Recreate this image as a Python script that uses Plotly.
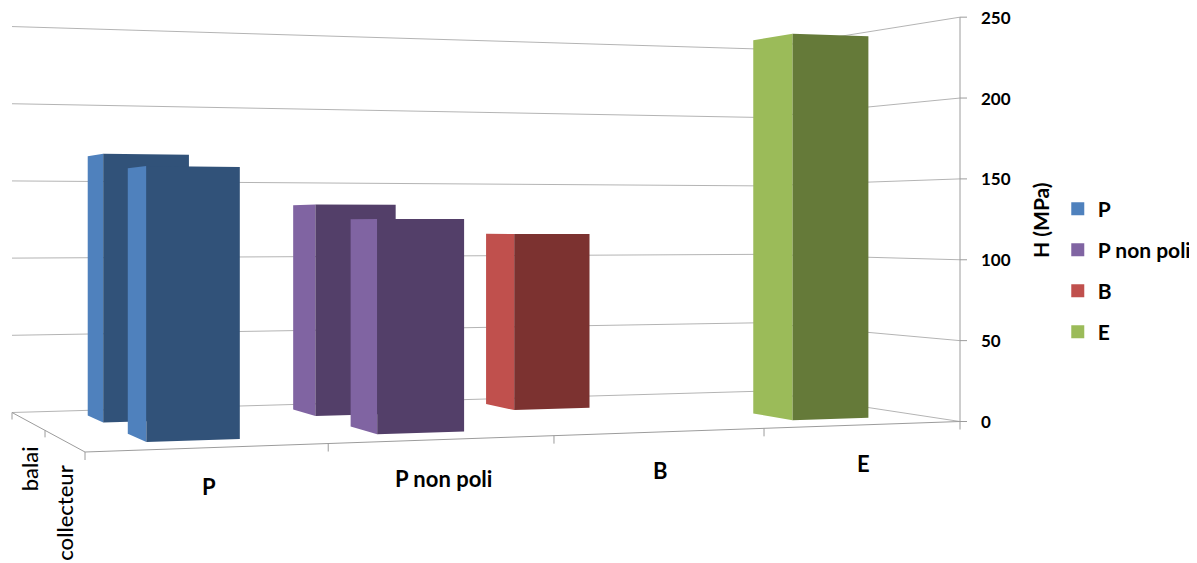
import plotly.graph_objects as go

categories = ["P", "P non poli", "B", "E"]
rows = ["balai", "collecteur"]
balai_values = [165.3, 134.5, 115.5, None]
collecteur_values = [154.5, 125.0, None, 240.5]
z_ticks = [0, 50, 100, 150, 200, 250]
z_max = 250
side_colors = ["#4f81bd", "#8064a2", "#c0504d", "#9bbb59"]
front_colors = ["#315279", "#533f69", "#7c3230", "#657a39"]

# Projection of the (category, depth, value) box onto the page: Excel-style 3D view
ORIGIN = (85.0, 452.0)
RIGHT_FRONT = (960.0, 421.5)
LEFT_BACK = (12.0, 412.5)
G, H = 0.155, 0.21
Z_PIX = 467.0
AX = RIGHT_FRONT[0] * (1 + G) - ORIGIN[0]
BX = LEFT_BACK[0] * (1 + H) - ORIGIN[0]
AY = RIGHT_FRONT[1] * (1 + G) - ORIGIN[1]
BY = LEFT_BACK[1] * (1 + H) - ORIGIN[1]
PAGE_MARGIN = 8  # the page body's default margin


def project(u, v, z):
    den = 1 + G * u + H * v
    x = (ORIGIN[0] + AX * u + BX * v) / den
    y = (ORIGIN[1] + AY * u + BY * v - Z_PIX * z / z_max) / den
    return x, y


GRID = "#b4b4b4"
AXIS = "#9c9c9c"
ROW_V = {"balai": 0.75, "collecteur": 0.26}
LABEL_V = {"balai": 0.76, "collecteur": 0.27}
HALF_D = 0.10
HALF_W = 0.0495
N = len(categories)

fig = go.Figure()


def line(points, color=GRID, width=1):
    fig.add_trace(go.Scatter(x=[p[0] for p in points], y=[p[1] for p in points], mode="lines",
                             line=dict(color=color, width=width), hoverinfo="skip", showlegend=False))


# wall grid lines
for z in z_ticks:
    line([project(0, 1, z), project(1, 1, z), project(1, 0, z)])

# floor edges, axis and tick marks
line([project(0, 1, 0), project(0, 0, 0), project(1, 0, 0)], AXIS)
line([project(1, 0, 0), project(1, 0, z_max)], AXIS)
for i in range(N + 1):
    x, y = project(i / N, 0, 0)
    line([(x, y), (x, y + 8)], AXIS)
for v in (0.5, 1.0):
    x, y = project(0, v, 0)
    line([(x, y), (x, y + 7)], AXIS)
for z in z_ticks:
    x, y = project(1, 0, z)
    line([(x, y), (x + 7, y)], AXIS)


def face(points, color):
    fig.add_trace(go.Scatter(x=[p[0] for p in points], y=[p[1] for p in points], mode="none",
                             fill="toself", fillcolor=color, hoverinfo="skip", showlegend=False))


def bar(i, row, value):
    uc = (i + 0.5) / N + 0.002
    v0, v1 = ROW_V[row] - HALF_D, ROW_V[row] + HALF_D
    u0, u1 = uc - HALF_W, uc + HALF_W
    face([project(u0, v1, 0), project(u0, v0, 0), project(u0, v0, value), project(u0, v1, value)], side_colors[i])
    face([project(u0, v0, 0), project(u1, v0, 0), project(u1, v0, value), project(u0, v0, value)], front_colors[i])


for row, values in (("balai", balai_values), ("collecteur", collecteur_values)):
    for i, val in enumerate(values):
        if val is not None:
            bar(i, row, val)

# legend entries
for i, name in enumerate(categories):
    fig.add_trace(go.Scatter(x=[None], y=[None], mode="markers", name=name, legendgroup=name,
                             marker=dict(symbol="square", size=13, color=side_colors[i])))

FONT = "Lato"
annotations = []
for i, name in enumerate(categories):
    x, y = project((i + 0.5) / N, 0, 0)
    annotations.append(dict(x=x, y=y, text=name, yshift=-39, xanchor="center", yanchor="middle",
                            font=dict(family=FONT, size=22, color="black", weight="bold")))
for z in z_ticks:
    x, y = project(1, 0, z)
    annotations.append(dict(x=x, y=y, text=str(z), xshift=19, xanchor="left", yanchor="middle",
                            font=dict(family=FONT, size=17, color="black", weight="bold")))
for row in rows:
    x, y = project(0, LABEL_V[row], 0)
    annotations.append(dict(x=x, y=y, text=row, textangle=-90, xshift=2, yshift=-24, xanchor="center", yanchor="top",
                            font=dict(family=FONT, size=22, color="black", weight=500)))
annotations.append(dict(x=1040, y=220, text="H (MPa)", textangle=-90, xanchor="center", yanchor="middle",
                        font=dict(family=FONT, size=21, color="black", weight="bold")))
for a in annotations:
    a.update(xref="x", yref="y", showarrow=False)

fig.update_layout(
    width=1197, height=563, margin=dict(l=0, r=0, t=0, b=0),
    paper_bgcolor="white", plot_bgcolor="white",
    xaxis=dict(range=[PAGE_MARGIN, 1197 + PAGE_MARGIN], visible=False, fixedrange=True),
    yaxis=dict(range=[563 + PAGE_MARGIN, PAGE_MARGIN], visible=False, fixedrange=True),
    annotations=annotations,
    showlegend=True,
    legend=dict(x=0.877, y=0.679, xanchor="left", yanchor="top", traceorder="grouped", tracegroupgap=10.7,
                bgcolor="rgba(0,0,0,0)",
                font=dict(family=FONT, size=21, color="black", weight="bold")),
)
fig.write_html("out.html")
